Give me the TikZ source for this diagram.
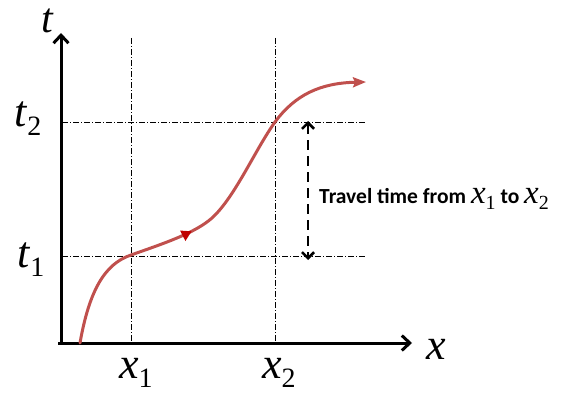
\documentclass[tikz,border=0pt]{standalone}
\usepackage{fontspec}
\setmainfont{Liberation Serif}
\newfontfamily\calfont{Carlito}
\usetikzlibrary{arrows.meta,decorations.markings}
\definecolor{curvered}{HTML}{C0504D}
\definecolor{markred}{HTML}{C00000}
\newcommand{\bigvar}[2]{{\fontsize{44}{44}\selectfont\textit{#1}}\raisebox{-9pt}{\fontsize{28}{28}\selectfont #2}}
\newcommand{\smallvar}[2]{{\fontsize{33}{33}\selectfont\textit{#1}}\raisebox{-6pt}{\fontsize{20}{20}\selectfont #2}}
\tikzset{
  axisline/.style={line width=3pt,-{Straight Barb[length=8pt,width=15pt,line width=3pt]}},
  guide/.style={line width=0.8pt,dash pattern=on 6pt off 2pt on 1pt off 2pt},
  trajectory/.style={line width=3pt,color=curvered,line cap=round},
  spanarrow/.style={line width=2.6pt,dash pattern=on 10pt off 6pt,{Straight Barb[length=6pt,width=12pt,line width=2.6pt]}-{Straight Barb[length=6pt,width=12pt,line width=2.6pt]}},
  varlabel/.style={inner sep=0pt,anchor=base west},
}
\begin{document}
\begin{tikzpicture}[x=1pt,y=-1pt]
\useasboundingbox (0,0) rectangle (564,396);
% coordinates
\coordinate (O) at (61,343);
\coordinate (ytip) at (61,33);
\coordinate (ostart) at (58,343);
\coordinate (xtip) at (412,343);
\coordinate (x1top) at (131,38);
\coordinate (x1bot) at (131,343);
\coordinate (x2top) at (275,38);
\coordinate (x2bot) at (275,343);
\coordinate (t2left) at (62,122);
\coordinate (t2right) at (366,122);
\coordinate (t1left) at (62,256);
\coordinate (t1right) at (366,256);
\coordinate (atop) at (308,121);
\coordinate (abot) at (308,260);
% guides
\draw[guide] (x1top) -- (x1bot);
\draw[guide] (x2top) -- (x2bot);
\draw[guide] (t2left) -- (t2right);
\draw[guide] (t1left) -- (t1right);
% axes
\draw[axisline] (O) -- (ytip);
\draw[axisline] (ostart) -- (xtip);
% curve
\coordinate (c0) at (80,343);
\coordinate (c1) at (131,255);
\coordinate (c2) at (212,218);
\coordinate (c3) at (275,122);
\coordinate (c4) at (366,82);
\draw[trajectory,-{Stealth[length=13pt,width=10pt,inset=2pt]},
  postaction={decorate},
  decoration={markings,mark=at position 172pt with {\arrow[markred]{Triangle[length=10pt,width=11pt]}}}]
  (c0) .. controls (89,292) and (104,264) .. (c1)
  .. controls (165,243) and (195,233) .. (c2)
  .. controls (235,197) and (255,150) .. (c3)
  .. controls (295,95) and (320,83) .. (c4);
% span arrow
\draw[spanarrow] (atop) -- (abot);
% labels
\node[varlabel,text height=24pt] (tlab) at (41,33) {{\fontsize{42}{42}\selectfont\textit{t}}};
\node[varlabel] (t2lab) at (14,126) {\bigvar{t}{2}};
\node[varlabel] (t1lab) at (17,267) {\bigvar{t}{1}};
\node[varlabel] (xlab) at (426,359) {{\fontsize{44}{44}\selectfont\textit{x}}};
\node[varlabel] (x1lab) at (119,378) {\bigvar{x}{1}};
\node[varlabel] (x2lab) at (262,378) {\bigvar{x}{2}};
\node[inner sep=0pt,anchor=base west] (travel) at (319,203) {{\calfont\bfseries\fontsize{21.5}{21.5}\selectfont Travel time from\ }\smallvar{x}{1}{\calfont\bfseries\fontsize{21.5}{21.5}\selectfont\ to\ }\smallvar{x}{2}};
\end{tikzpicture}
\end{document}
